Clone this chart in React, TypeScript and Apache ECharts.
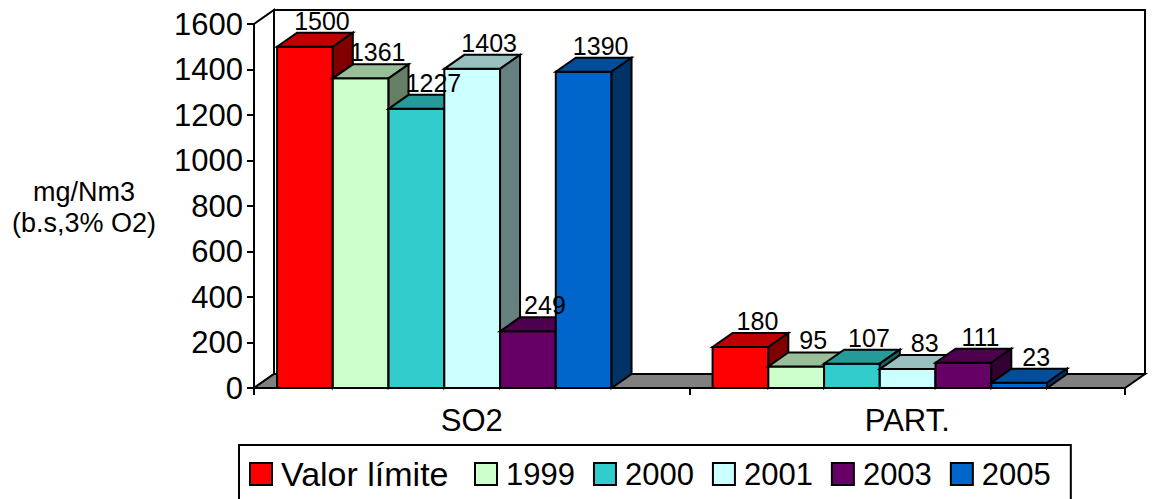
import React, { useEffect, useRef } from "react";
import * as echarts from "echarts";

// Emission categories and the measured concentrations (mg/Nm3)
const categories = ["SO2", "PART."];
const seriesNames = ["Valor límite", "1999", "2000", "2001", "2003", "2005"];
const valorLimite = [1500, 180];
const values1999 = [1361, 95];
const values2000 = [1227, 107];
const values2001 = [1403, 83];
const values2003 = [249, 111];
const values2005 = [1390, 23];
const seriesValues = [valorLimite, values1999, values2000, values2001, values2003, values2005];

// Y scale
const yMin = 0;
const yMax = 1600;
const yStep = 200;

// Front face colours; top and side faces are shaded from these
const frontColors = ["#FF0000", "#CCFFCC", "#33CCCC", "#CCFFFF", "#660066", "#0066CC"];

const FONT = "'Liberation Sans', Arial, Helvetica, sans-serif";
const DEPTH_X = 20;
const DEPTH_Y = -14;
const GROUP_OFFSET = 0.053; // gap before the first bar, as a share of the band
const BAR_SHARE = 0.128; // one bar's width, as a share of the band
const EDGE = "#000";
const EDGE_W = 2;

function shade(hex: string, f: number): string {
  const n = parseInt(hex.slice(1), 16);
  const r = Math.round(((n >> 16) & 255) * f);
  const g = Math.round(((n >> 8) & 255) * f);
  const b = Math.round((n & 255) * f);
  return `rgb(${r},${g},${b})`;
}

function barRenderer(idx: number) {
  return (params: any, api: any) => {
    const cat = api.value(0);
    const val = api.value(1);
    const base = api.coord([cat, 0]);
    const top = api.coord([cat, val]);
    const band = api.size([1, 0])[0];
    const w = band * BAR_SHARE;
    const x0 = base[0] - band / 2 + band * GROUP_OFFSET + idx * w;
    const yB = base[1];
    const yT = top[1];
    const color = frontColors[idx];
    const stroke = { stroke: EDGE, lineWidth: EDGE_W, lineJoin: "miter" };
    return {
      type: "group",
      children: [
        {
          type: "rect",
          shape: { x: x0, y: yT, width: w, height: yB - yT },
          style: { fill: color, ...stroke },
        },
        {
          type: "polygon",
          shape: {
            points: [
              [x0, yT],
              [x0 + w, yT],
              [x0 + w + DEPTH_X, yT + DEPTH_Y],
              [x0 + DEPTH_X, yT + DEPTH_Y],
            ],
          },
          style: { fill: shade(color, 0.75), ...stroke },
        },
        {
          type: "polygon",
          shape: {
            points: [
              [x0 + w, yT],
              [x0 + w + DEPTH_X, yT + DEPTH_Y],
              [x0 + w + DEPTH_X, yB + DEPTH_Y],
              [x0 + w, yB],
            ],
          },
          style: { fill: shade(color, 0.5), ...stroke },
        },
        {
          type: "text",
          z2: 100,
          x: x0 + w / 2 + DEPTH_X * 0.85,
          y: yT + DEPTH_Y - 12,
          style: {
            text: String(val),
            fontSize: 25,
            fontFamily: FONT,
            fill: "#000",
            align: "center",
            verticalAlign: "middle",
          },
        },
      ],
    };
  };
}

// Back wall, side wall and floor of the 3-D plot box
function plotBoxRenderer(params: any) {
  const cs = params.coordSys;
  const L = cs.x;
  const T = cs.y;
  const R = cs.x + cs.width;
  const B = cs.y + cs.height;
  const stroke = { stroke: EDGE, lineWidth: EDGE_W };
  return {
    type: "group",
    silent: true,
    children: [
      {
        type: "polygon",
        shape: {
          points: [
            [L + DEPTH_X, T + DEPTH_Y],
            [R + DEPTH_X, T + DEPTH_Y],
            [R + DEPTH_X, B + DEPTH_Y],
            [L + DEPTH_X, B + DEPTH_Y],
          ],
        },
        style: { fill: "#fff", ...stroke },
      },
      {
        type: "polygon",
        shape: {
          points: [
            [L, T],
            [L + DEPTH_X, T + DEPTH_Y],
            [L + DEPTH_X, B + DEPTH_Y],
            [L, B],
          ],
        },
        style: { fill: "#fff", ...stroke },
      },
      {
        type: "polygon",
        shape: {
          points: [
            [L, B],
            [R, B],
            [R + DEPTH_X, B + DEPTH_Y],
            [L + DEPTH_X, B + DEPTH_Y],
          ],
        },
        style: { fill: "#808080", ...stroke },
      },
    ],
  };
}

export default function App() {
  const ref = useRef<HTMLDivElement>(null);

  useEffect(() => {
    if (!ref.current) return;
    const chart = echarts.init(ref.current, null, { renderer: "svg" });

    const barSeries = seriesNames.map((name, idx) => ({
      type: "custom",
      name,
      coordinateSystem: "cartesian2d",
      itemStyle: { color: frontColors[idx] },
      renderItem: barRenderer(idx),
      data: categories.map((_, ci) => [ci, seriesValues[idx][ci]]),
    }));

    chart.setOption({
      animation: false,
      backgroundColor: "#fff",
      textStyle: { fontFamily: FONT },
      grid: { left: 254, top: 24, width: 871, height: 364 },
      xAxis: {
        type: "category",
        data: categories,
        axisLine: { show: true, lineStyle: { color: EDGE, width: EDGE_W } },
        axisTick: { show: true, length: 7, lineStyle: { color: EDGE, width: EDGE_W } },
        axisLabel: { fontSize: 31, color: "#000", margin: 17, fontFamily: FONT },
        splitLine: { show: false },
      },
      yAxis: {
        type: "value",
        min: yMin,
        max: yMax,
        interval: yStep,
        axisLine: { show: true, lineStyle: { color: EDGE, width: EDGE_W } },
        axisTick: { show: true, length: 7, lineStyle: { color: EDGE, width: EDGE_W } },
        axisLabel: {
          fontSize: 31,
          color: "#000",
          margin: 11,
          fontFamily: FONT,
          formatter: (v: number) => String(v),
        },
        splitLine: { show: false },
      },
      legend: {
        data: seriesNames,
        left: 239,
        top: 445,
        orient: "horizontal",
        padding: [12, 20, 40, 10],
        itemGap: 18,
        itemWidth: 22,
        itemHeight: 22,
        icon: "rect",
        borderColor: EDGE,
        borderWidth: 2,
        selectedMode: false,
        itemStyle: { borderColor: EDGE, borderWidth: 2 },
        formatter: (name: string) => (name === seriesNames[0] ? `{wide|${name}}` : name),
        textStyle: {
          fontSize: 31,
          color: "#000",
          lineHeight: 32,
          fontFamily: FONT,
          padding: [0, 0, 0, 4],
          rich: { wide: { width: 175, fontSize: 34, lineHeight: 32, fontFamily: FONT } },
        },
      },
      graphic: [
        {
          type: "text",
          x: 84,
          y: 207,
          style: {
            text: "mg/Nm3\n(b.s,3% O2)",
            fontSize: 27,
            lineHeight: 31,
            fontFamily: FONT,
            fill: "#000",
            align: "center",
            verticalAlign: "middle",
          },
        },
      ],
      series: [
        {
          type: "custom",
          name: "plotBox",
          coordinateSystem: "cartesian2d",
          silent: true,
          renderItem: plotBoxRenderer,
          data: [[0, 0]],
        },
        ...barSeries,
      ],
    });

    return () => chart.dispose();
  }, []);

  return (
    <div
      ref={ref}
      style={{ position: "absolute", left: 0, top: 0, width: 1152, height: 499 }}
    />
  );
}
